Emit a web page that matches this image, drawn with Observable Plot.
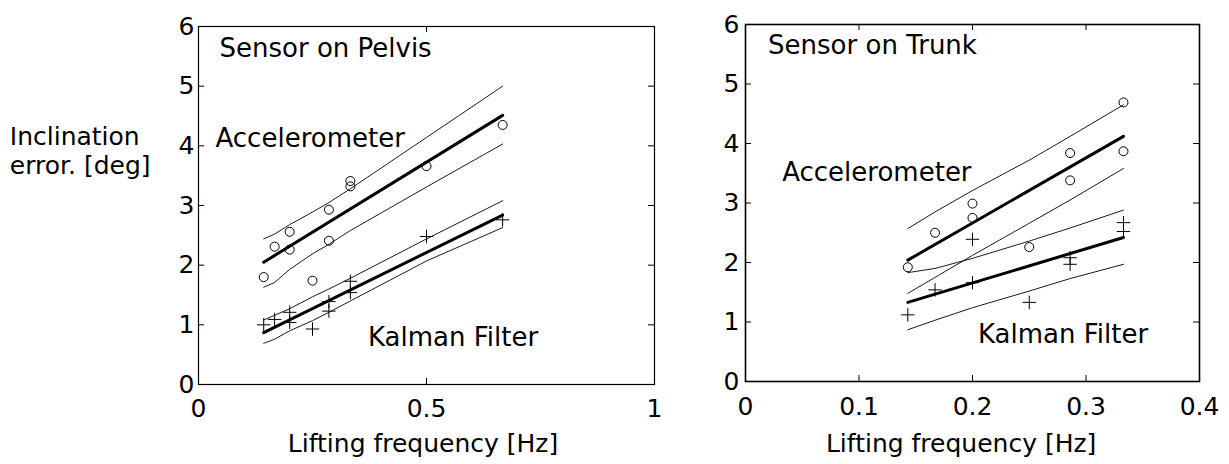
<!DOCTYPE html>
<html>
<head>
<meta charset="utf-8">
<script src="https://cdn.jsdelivr.net/npm/d3@7"></script>
<script src="https://cdn.jsdelivr.net/npm/@observablehq/plot@0.6"></script>
<style>
  html, body { margin: 0; padding: 0; background: #fff; }
  #wrap { position: relative; width: 1229px; height: 464px; overflow: hidden; background: #fff; }
  #left, #right { position: absolute; top: 0; }
  #left { left: 0; }
  #right { left: 700px; }
</style>
</head>
<body>
<div id="wrap"><div id="left"></div><div id="right"></div></div>
<script>
// ---------- Left panel: Sensor on Pelvis ----------
const pelvisAccX = [0.143, 0.167, 0.2, 0.2, 0.25, 0.286, 0.286, 0.333, 0.333, 0.5, 0.667];
const pelvisAccY = [1.80, 2.31, 2.56, 2.26, 1.74, 2.93, 2.41, 3.41, 3.32, 3.66, 4.35];
const pelvisKalX = [0.143, 0.167, 0.2, 0.2, 0.25, 0.286, 0.286, 0.333, 0.333, 0.5, 0.667];
const pelvisKalY = [1.00, 1.09, 1.21, 1.04, 0.93, 1.39, 1.23, 1.73, 1.54, 2.48, 2.76];
const pelvisBandX = [0.143, 0.167, 0.2, 0.25, 0.286, 0.333, 0.5, 0.667];
const pelvisAccUpper = [2.44, 2.52, 2.68, 2.89, 3.05, 3.28, 4.14, 5.00];
const pelvisAccLower = [1.63, 1.71, 1.93, 2.19, 2.35, 2.58, 3.31, 4.03];
const pelvisKalUpper = [1.08, 1.16, 1.27, 1.47, 1.60, 1.78, 2.44, 3.08];
const pelvisKalLower = [0.69, 0.76, 0.90, 1.07, 1.21, 1.40, 2.07, 2.63];
const pelvisFitX = [0.143, 0.667];
const pelvisAccFit = [2.05, 4.51];
const pelvisKalFit = [0.87, 2.84];
const pelvisXTicks = [0, 0.5, 1];

// ---------- Right panel: Sensor on Trunk ----------
const trunkAccX = [0.143, 0.167, 0.2, 0.2, 0.25, 0.286, 0.286, 0.333, 0.333];
const trunkAccY = [1.92, 2.50, 2.99, 2.75, 2.26, 3.84, 3.38, 4.69, 3.87];
const trunkKalX = [0.143, 0.167, 0.2, 0.2, 0.25, 0.286, 0.286, 0.333, 0.333];
const trunkKalY = [1.12, 1.54, 2.39, 1.66, 1.33, 2.08, 1.97, 2.67, 2.52];
const trunkBandX = [0.143, 0.167, 0.2, 0.25, 0.286, 0.333];
const trunkAccUpper = [2.57, 2.85, 3.21, 3.72, 4.12, 4.65];
const trunkAccLower = [1.48, 1.75, 2.12, 2.66, 3.05, 3.58];
const trunkKalUpper = [1.83, 1.90, 2.07, 2.36, 2.58, 2.88];
const trunkKalLower = [0.87, 1.03, 1.24, 1.52, 1.73, 1.97];
const trunkFitX = [0.143, 0.333];
const trunkAccFit = [2.04, 4.12];
const trunkKalFit = [1.33, 2.42];
const trunkXTicks = [0, 0.1, 0.2, 0.3, 0.4];

const yTicks = [0, 1, 2, 3, 4, 5, 6];
const yLabel = "Inclination\nerror. [deg]";
const xLabel = "Lifting frequency [Hz]";
const seriesNames = ["Accelerometer", "Kalman Filter"];

const FONT = "DejaVu Sans";
const pts = (xs, ys) => xs.map((x, i) => ({x, y: ys[i]}));

function panel(cfg) {
  const innerW = cfg.width - cfg.ml - cfg.mr;
  const innerH = cfg.height - cfg.mt - cfg.mb;
  const thin = {x: "x", y: "y", stroke: "black", strokeWidth: 0.9};
  const thick = {x: "x", y: "y", stroke: "black", strokeWidth: 3};
  const txt = {text: d => d, lineAnchor: "middle", fill: "black"};
  const marks = [
    Plot.frame({stroke: "black", strokeWidth: cfg.frameW}),
    // inward ticks (MATLAB style)
    Plot.tickY(yTicks, {y: d => d, stroke: "black", insetRight: innerW - 6}),
    Plot.tickY(yTicks, {y: d => d, stroke: "black", insetLeft: innerW - 6}),
    Plot.tickX(cfg.xTicks, {x: d => d, stroke: "black", insetTop: innerH - 6}),
    Plot.tickX(cfg.xTicks, {x: d => d, stroke: "black", insetBottom: innerH - 6}),
    Plot.axisX(cfg.xTicks, {tickSize: 0, tickPadding: cfg.xPad, label: null, fontSize: 25, tickFormat: d => String(d)}),
    Plot.axisY(yTicks, {tickSize: 0, tickPadding: cfg.yPad, label: null, fontSize: 25, tickFormat: d => String(d)}),
    // confidence bands
    Plot.line(pts(cfg.bandX, cfg.accUpper), thin),
    Plot.line(pts(cfg.bandX, cfg.accLower), thin),
    Plot.line(pts(cfg.bandX, cfg.kalUpper), thin),
    Plot.line(pts(cfg.bandX, cfg.kalLower), thin),
    // fits
    Plot.line(pts(cfg.fitX, cfg.accFit), thick),
    Plot.line(pts(cfg.fitX, cfg.kalFit), thick),
    // data
    Plot.dot(pts(cfg.accX, cfg.accY), {x: "x", y: "y", r: 4.5, stroke: "black", fill: "none", strokeWidth: 1}),
    Plot.dot(pts(cfg.kalX, cfg.kalY), {x: "x", y: "y", r: 4.4, symbol: "plus", stroke: "black", strokeWidth: 1}),
    // annotations
    Plot.text([cfg.title], {...txt, frameAnchor: "top-left", textAnchor: "start", dx: cfg.title_dx, dy: cfg.title_dy, fontSize: 26}),
    Plot.text([seriesNames[0]], {...txt, frameAnchor: "top-left", textAnchor: "start", dx: cfg.acc_dx, dy: cfg.acc_dy, fontSize: 26}),
    Plot.text([seriesNames[1]], {...txt, frameAnchor: "top-left", textAnchor: "start", dx: cfg.kal_dx, dy: cfg.kal_dy, fontSize: 26}),
    Plot.text([xLabel], {...txt, frameAnchor: "bottom", textAnchor: "middle", dx: cfg.xl_dx, dy: cfg.xl_dy, fontSize: 25})
  ];
  if (cfg.showYLabel) {
    marks.push(Plot.text([yLabel], {...txt, frameAnchor: "top-left", textAnchor: "start", dx: cfg.yl_dx, dy: cfg.yl_dy, lineHeight: 1.18, fontSize: 25}));
  }
  return Plot.plot({
    width: cfg.width, height: cfg.height,
    marginLeft: cfg.ml, marginRight: cfg.mr, marginTop: cfg.mt, marginBottom: cfg.mb,
    x: {domain: cfg.xDomain},
    y: {domain: [0, 6]},
    style: {fontFamily: FONT, fontSize: "25px", color: "black", background: "white", overflow: "visible"},
    marks
  });
}

document.getElementById("left").appendChild(panel({
  width: 700, height: 464, ml: 198, mr: 46, mt: 26, mb: 80, frameW: 1.2,
  xDomain: [0, 1], xTicks: pelvisXTicks, xPad: 15, yPad: 4,
  bandX: pelvisBandX, accUpper: pelvisAccUpper, accLower: pelvisAccLower,
  kalUpper: pelvisKalUpper, kalLower: pelvisKalLower,
  fitX: pelvisFitX, accFit: pelvisAccFit, kalFit: pelvisKalFit,
  accX: pelvisAccX, accY: pelvisAccY, kalX: pelvisKalX, kalY: pelvisKalY,
  title: "Sensor on Pelvis", title_dx: 21, title_dy: 21.7,
  acc_dx: 17, acc_dy: 112.4, kal_dx: 169.5, kal_dy: 310.7,
  xl_dx: -3.5, xl_dy: 59.7,
  showYLabel: true, yl_dx: -188.7, yl_dy: 123.3
}));

document.getElementById("right").appendChild(panel({
  width: 529, height: 464, ml: 45, mr: 30, mt: 24, mb: 83, frameW: 1.6,
  xDomain: [0, 0.4], xTicks: trunkXTicks, xPad: 16, yPad: 6,
  bandX: trunkBandX, accUpper: trunkAccUpper, accLower: trunkAccLower,
  kalUpper: trunkKalUpper, kalLower: trunkKalLower,
  fitX: trunkFitX, accFit: trunkAccFit, kalFit: trunkKalFit,
  accX: trunkAccX, accY: trunkAccY, kalX: trunkKalX, kalY: trunkKalY,
  title: "Sensor on Trunk", title_dx: 22.6, title_dy: 21,
  acc_dx: 36.7, acc_dy: 148.4, kal_dx: 232.5, kal_dy: 310.4,
  xl_dx: -11.4, xl_dy: 62.7,
  showYLabel: false
}));
</script>
</body>
</html>
